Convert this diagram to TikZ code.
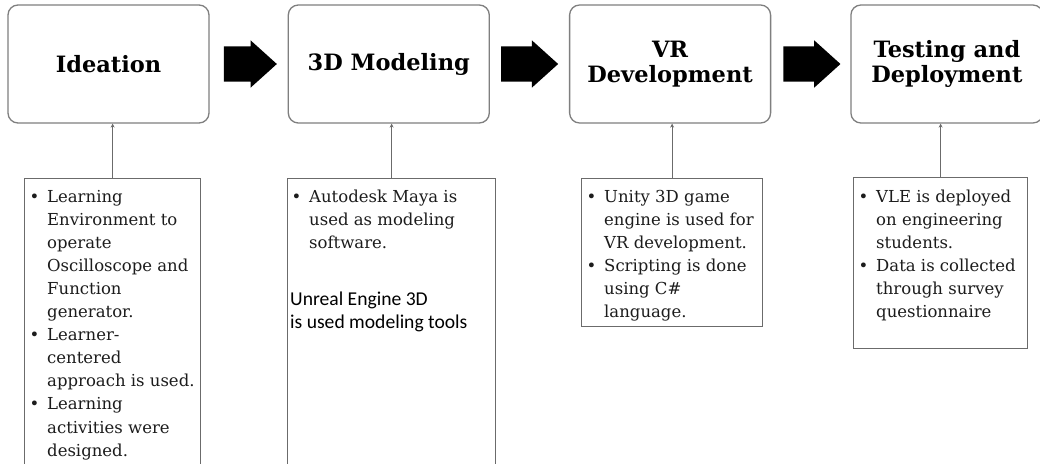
\documentclass[tikz,border=0pt]{standalone}
\usepackage{fontspec}
\setmainfont{DejaVu Serif}
\newfontfamily\notesans{Carlito}
\usetikzlibrary{arrows.meta, positioning, shapes.arrows}
\definecolor{edge}{HTML}{7F7F7F}
\definecolor{rule}{HTML}{6B6B6B}
\definecolor{txt}{HTML}{1C1C1C}
\newcommand{\itm}{\llap{\makebox[17.5pt][l]{\textbullet}}}
\newcommand{\lines}[1]{\begin{tabular}[t]{@{}l@{}}#1\end{tabular}}

\begin{document}
\begin{tikzpicture}[
  x=1pt, y=-1pt,
  node distance=78pt,
  stage/.style={
    rounded corners=10pt, draw=edge, line width=1.3pt, align=center,
    minimum width=201pt, minimum height=118pt, inner sep=0pt,
    font=\fontsize{22.5}{25}\selectfont\bfseries
  },
  note/.style    ={draw=rule, line width=1.3pt, anchor=north west, inner sep=0pt},
  notetext/.style={anchor=base west, inner sep=0pt, text=txt,
                   font=\fontsize{16.5}{23.1}\selectfont},
  push/.style    ={single arrow, fill=black, inner xsep=0pt, inner ysep=17.5pt,
                   single arrow head extend=6pt, single arrow tip angle=84},
  link/.style    ={-{Stealth[length=4pt, width=4pt]}, draw=rule, line width=1.1pt}
]

\fill[white] (0,0) rectangle (1040,463);
\clip (0,0) rectangle (1040,463);

\node[stage] (b1) at (108.5,64)           {Ideation};
\node[push, minimum height=53pt, right=14pt of b1] (p1) {};
\node[stage, right=78pt of b1] (b2)       {3D Modeling};
\node[push, minimum height=57pt, right=11pt of b2] (p2) {};
\node[stage, right=79pt of b2] (b3)       {VR\\ Development};
\node[push, minimum height=57pt, right=12pt of b3] (p3) {};
\node[stage, minimum width=192pt, right=79pt of b3] (b4) {Testing and\\ Deployment};

\node[note, minimum width=176pt, minimum height=300pt] (n1) at (24,178)  {};
\node[note, minimum width=208pt, minimum height=300pt] (n2) at (287,178) {};
\node[note, minimum width=181pt, minimum height=148pt] (n3) at (581,178) {};
\node[note, minimum width=174pt, minimum height=171pt] (n4) at (853,177) {};

\node[notetext] (t1) at (47,202)
  {\lines{\itm Learning\\ Environment to\\ operate\\ Oscilloscope and\\ Function\\ generator.\\
   \itm Learner-\\ centered\\ approach is used.\\
   \itm Learning\\ activities were\\ designed.}};
\node[notetext] (t2) at (309,202)
  {\lines{\itm Autodesk Maya is\\ used as modeling\\ software.}};
\node[anchor=base west, inner sep=0pt,
      font=\notesans\fontsize{19.6}{23}\selectfont] (u2) at (290,305)
  {\lines{Unreal Engine 3D\\ is used modeling tools}};
\node[notetext] (t3) at (604,202)
  {\lines{\itm Unity 3D game\\ engine is used for\\ VR development.\\
   \itm Scripting is done\\ using C\#\\ language.}};
\node[notetext] (t4) at (876,202)
  {\lines{\itm VLE is deployed\\ on engineering\\ students.\\
   \itm Data is collected\\ through survey\\ questionnaire}};

\draw[link] (n1.north) -- (n1.north |- b1.south);
\draw[link] (n2.north) -- (n2.north |- b2.south);
\draw[link] (n3.north) -- (n3.north |- b3.south);
\draw[link] (n4.north) -- (n4.north |- b4.south);

\end{tikzpicture}
\end{document}
